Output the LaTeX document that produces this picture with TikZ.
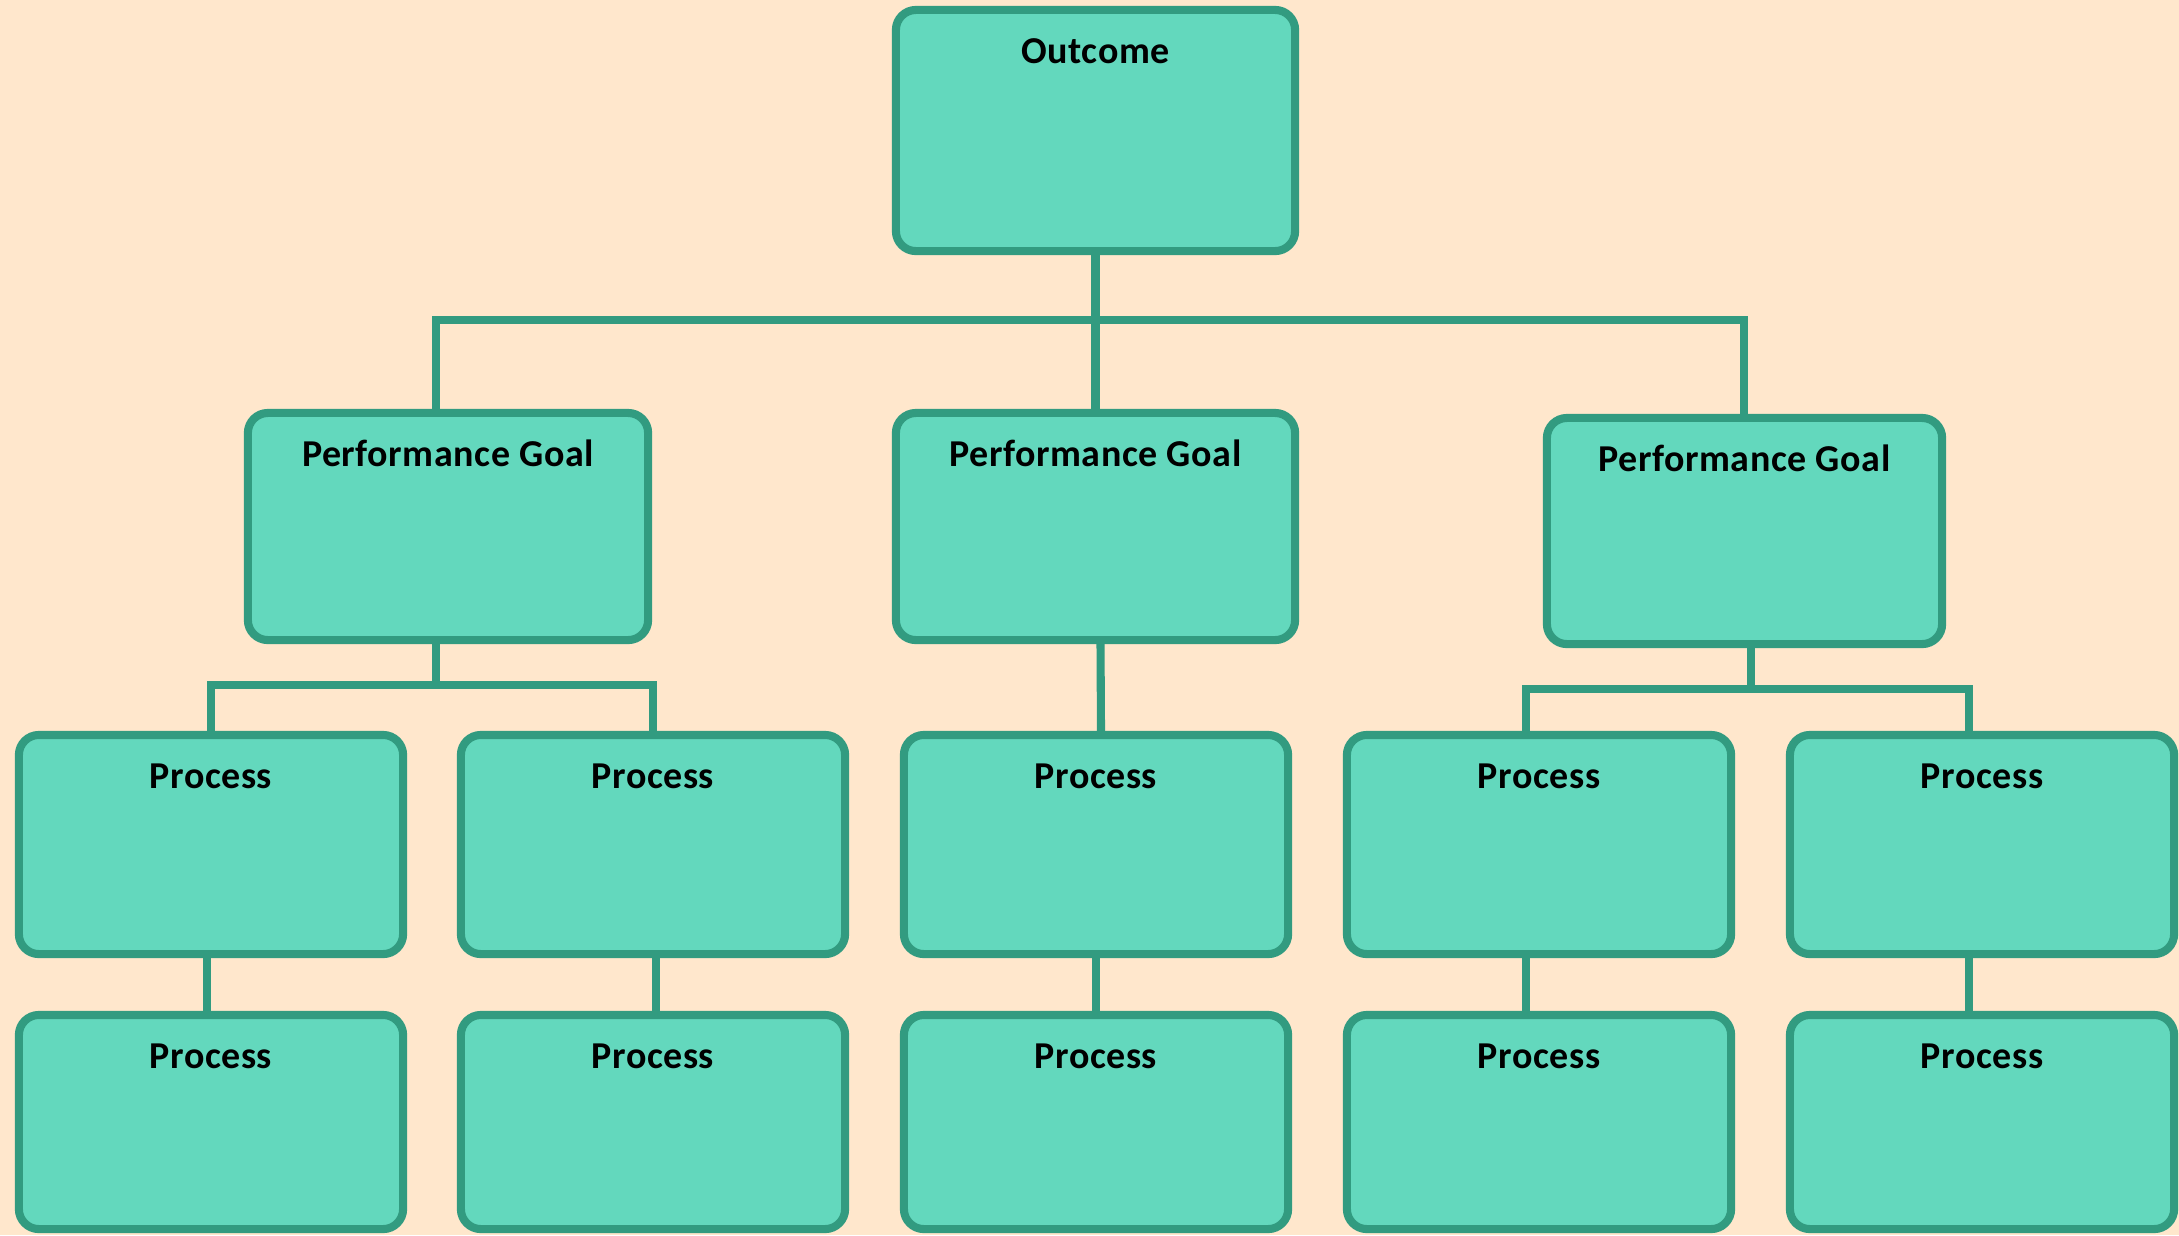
\documentclass[tikz,border=0pt]{standalone}
\usepackage{fontspec}
\setmainfont{Carlito}
\definecolor{bgcol}{RGB}{255,231,204}
\definecolor{boxfill}{RGB}{99,216,189}
\definecolor{boxline}{RGB}{50,155,128}
\begin{document}
\begin{tikzpicture}[x=0.01cm, y=-0.01cm, line width=2.3pt,
    box/.style={draw=boxline, fill=boxfill, rectangle, rounded corners=0.2cm, minimum width=3.84cm},
    link/.style={draw=boxline},
    title/.style={label={[anchor=base, yshift=-0.58cm, font=\bfseries\fontsize{10.8}{13}\selectfont\addfontfeatures{LetterSpace=1.5}]north:#1}}]

    % Background
    \fill[bgcol] (0, 0) rectangle (2179, 1235);
    \useasboundingbox (0, 0) rectangle (2179, 1235);

    % Nodes
    \node at (1095.5, 130.5) (O) [box, minimum width=3.99cm, minimum height=2.41cm, title=Outcome] {};

    \node at (448, 526.5) (G1) [box, minimum width=4cm, minimum height=2.27cm, title=Performance Goal] {};
    \node at (1095.5, 526.5) (G2) [box, minimum width=3.99cm, minimum height=2.27cm, title=Performance Goal] {};
    \node at (1744.5, 531) (G3) [box, minimum width=3.95cm, minimum height=2.26cm, title=Performance Goal] {};

    \node at (211, 844.5) (P1) [box, minimum height=2.19cm, title=Process] {};
    \node at (653, 844.5) (P2) [box, minimum height=2.19cm, title=Process] {};
    \node at (1096, 844.5) (P3) [box, minimum height=2.19cm, title=Process] {};
    \node at (1539, 844.5) (P4) [box, minimum height=2.19cm, title=Process] {};
    \node at (1982, 844.5) (P5) [box, minimum height=2.19cm, title=Process] {};

    \node at (211, 1122) (Q1) [box, minimum height=2.14cm, title=Process] {};
    \node at (653, 1122) (Q2) [box, minimum height=2.14cm, title=Process] {};
    \node at (1096, 1122) (Q3) [box, minimum height=2.14cm, title=Process] {};
    \node at (1539, 1122) (Q4) [box, minimum height=2.14cm, title=Process] {};
    \node at (1982, 1122) (Q5) [box, minimum height=2.14cm, title=Process] {};

    % Bus points
    \coordinate (B1) at (436, 320);
    \coordinate (B2) at (1744, 320);
    \coordinate (S1) at (436, 685);
    \coordinate (S3) at (1751, 689);

    % Lines
    \draw[link] (O.south) -- (G2.north);
    \draw[link] (G1.north -| B1) -- (B1) -- (B2) -- (G3.north -| B2);

    \draw[link] (G1.south -| S1) -- (S1);
    \draw[link] (P1.north) |- (S1) -| (P2.north);
    \draw[link] ([xshift=0.05cm]G2.south) -- ([xshift=0.05cm]P3.north);
    \draw[link] (G3.south -| S3) -- (S3);
    \draw[link] ([xshift=-0.13cm]P4.north) |- (S3) -| ([xshift=-0.13cm]P5.north);

    \draw[link] ([xshift=-0.04cm]P1.south) -- ([xshift=-0.04cm]Q1.north);
    \draw[link] ([xshift=0.03cm]P2.south) -- ([xshift=0.03cm]Q2.north);
    \draw[link] (P3.south) -- (Q3.north);
    \draw[link] ([xshift=-0.13cm]P4.south) -- ([xshift=-0.13cm]Q4.north);
    \draw[link] ([xshift=-0.13cm]P5.south) -- ([xshift=-0.13cm]Q5.north);

\end{tikzpicture}
\end{document}
